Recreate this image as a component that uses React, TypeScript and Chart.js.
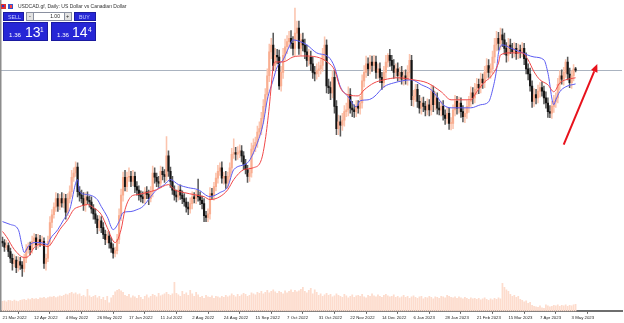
import React, { useEffect, useRef } from 'react';
import { Chart, registerables } from 'chart.js';

Chart.register(...registerables);

// ---------- data ----------
const TICK_LABELS = ['21 Mar 2022', '12 Apr 2022', '4 May 2022', '26 May 2022', '17 Jun 2022', '11 Jul 2022', '2 Aug 2022', '24 Aug 2022', '15 Sep 2022', '7 Oct 2022', '31 Oct 2022', '22 Nov 2022', '14 Dec 2022', '6 Jan 2023', '28 Jan 2023', '21 Feb 2023', '15 Mar 2023', '7 Apr 2023', '3 May 2023'];
const BARS_PER_LABEL = 16;

const FIRST_OPEN = 1.2610;
const CLOSE = [
  1.2600, 1.2575, 1.2585, 1.2550, 1.2510, 1.2480, 1.2500, 1.2455, 1.2490, 1.2470,
  1.2450, 1.2510, 1.2560, 1.2580, 1.2560, 1.2610, 1.2630, 1.2590, 1.2620, 1.2605,
  1.2610, 1.2480, 1.2510, 1.2610, 1.2720, 1.2765, 1.2810, 1.2860, 1.2815, 1.2860,
  1.2835, 1.2860, 1.2780, 1.2860, 1.2900, 1.2985, 1.3010, 1.3045, 1.2900, 1.2880,
  1.2860, 1.2820, 1.2870, 1.2850, 1.2840, 1.2800, 1.2770, 1.2740, 1.2690, 1.2730,
  1.2690, 1.2650, 1.2620, 1.2640, 1.2600, 1.2570, 1.2540, 1.2555, 1.2620, 1.2760,
  1.2880, 1.2985, 1.2930, 1.2985, 1.2990, 1.2960, 1.2990, 1.2930, 1.2910, 1.2880,
  1.2870, 1.2860, 1.2900, 1.2885, 1.2860, 1.2900, 1.3010, 1.2985, 1.2960, 1.2950,
  1.3020, 1.3000, 1.2990, 1.3110, 1.3020, 1.2960, 1.2910, 1.2880, 1.2870, 1.2910,
  1.2880, 1.2860, 1.2840, 1.2810, 1.2800, 1.2830, 1.2870, 1.2860, 1.2880, 1.2870,
  1.2850, 1.2830, 1.2760, 1.2750, 1.2770, 1.2890, 1.2880, 1.2930, 1.2980, 1.3020,
  1.3040, 1.2980, 1.2990, 1.2950, 1.2990, 1.3040, 1.3120, 1.3130, 1.3120, 1.3130,
  1.3140, 1.3110, 1.3060, 1.3030, 1.2990, 1.3010, 1.3150, 1.3170, 1.3190, 1.3250,
  1.3270, 1.3330, 1.3400, 1.3470, 1.3580, 1.3720, 1.3760, 1.3640, 1.3700, 1.3690,
  1.3520, 1.3600, 1.3700, 1.3750, 1.3780, 1.3800, 1.3770, 1.3740, 1.3830, 1.3860,
  1.3740, 1.3790, 1.3760, 1.3720, 1.3670, 1.3690, 1.3650, 1.3600, 1.3590, 1.3610,
  1.3620, 1.3640, 1.3700, 1.3760, 1.3520, 1.3510, 1.3480, 1.3570, 1.3400, 1.3270,
  1.3310, 1.3290, 1.3320, 1.3370, 1.3380, 1.3470, 1.3390, 1.3380, 1.3370, 1.3400,
  1.3390, 1.3420, 1.3550, 1.3600, 1.3650, 1.3620, 1.3660, 1.3640, 1.3660, 1.3600,
  1.3620, 1.3570, 1.3540, 1.3600, 1.3660, 1.3700, 1.3670, 1.3640, 1.3600, 1.3620,
  1.3580, 1.3600, 1.3560, 1.3580, 1.3560, 1.3600, 1.3670, 1.3440, 1.3460, 1.3500,
  1.3430, 1.3390, 1.3420, 1.3400, 1.3380, 1.3410, 1.3380, 1.3490, 1.3410, 1.3450,
  1.3390, 1.3380, 1.3400, 1.3350, 1.3330, 1.3360, 1.3300, 1.3300, 1.3380, 1.3430,
  1.3390, 1.3420, 1.3370, 1.3340, 1.3360, 1.3400, 1.3430, 1.3480, 1.3450, 1.3500,
  1.3530, 1.3510, 1.3560, 1.3540, 1.3600, 1.3640, 1.3600, 1.3620, 1.3690, 1.3760,
  1.3800, 1.3770, 1.3820, 1.3790, 1.3740, 1.3700, 1.3760, 1.3740, 1.3720, 1.3740,
  1.3710, 1.3730, 1.3720, 1.3740, 1.3680, 1.3620, 1.3590, 1.3520, 1.3430, 1.3470,
  1.3450, 1.3490, 1.3510, 1.3490, 1.3450, 1.3420, 1.3370, 1.3360, 1.3400, 1.3430,
  1.3450, 1.3530, 1.3580, 1.3560, 1.3600, 1.3660, 1.3590, 1.3540, 1.3580, 1.3620, 1.3613,
];
// wick lengths beyond the body, in pips
const WICK_UP_PIPS = [
  25, 20, 30, 15, 20, 25, 30, 20, 30, 25,
  20, 25, 30, 20, 25, 30, 25, 20, 30, 25,
  30, 20, 25, 30, 35, 30, 25, 35, 30, 25,
  35, 30, 25, 30, 35, 40, 30, 31, 25, 30,
  30, 35, 25, 30, 25, 30, 25, 30, 20, 30,
  25, 30, 25, 30, 25, 30, 25, 20, 30, 40,
  35, 30, 40, 30, 50, 30, 35, 25, 30, 25,
  25, 30, 25, 30, 25, 30, 40, 30, 25, 30,
  30, 25, 30, 114, 30, 25, 30, 25, 30, 25,
  30, 25, 30, 25, 30, 35, 30, 25, 30, 95,
  30, 25, 30, 25, 30, 35, 30, 25, 30, 35,
  30, 35, 25, 30, 25, 30, 35, 80, 30, 35,
  35, 30, 25, 30, 25, 30, 35, 40, 30, 35,
  40, 35, 40, 35, 40, 45, 40, 70, 40, 35,
  40, 35, 40, 45, 35, 40, 45, 40, 147, 40,
  40, 35, 40, 35, 40, 45, 35, 40, 35, 40,
  40, 35, 40, 48, 30, 40, 35, 40, 40, 35,
  40, 35, 40, 35, 40, 45, 35, 40, 30, 35,
  35, 40, 35, 40, 45, 35, 40, 35, 40, 35,
  30, 35, 30, 35, 40, 10, 35, 30, 35, 30,
  35, 30, 35, 30, 35, 40, 35, 30, 35, 30,
  30, 35, 30, 35, 30, 35, 30, 35, 30, 35,
  30, 35, 30, 35, 30, 35, 30, 35, 30, 35,
  30, 35, 30, 35, 30, 35, 30, 35, 30, 35,
  35, 30, 35, 30, 35, 40, 35, 30, 35, 40,
  40, 35, 40, 35, 40, 35, 40, 35, 30, 35,
  30, 35, 30, 35, 30, 35, 30, 35, 30, 35,
  30, 35, 30, 35, 30, 35, 30, 35, 30, 35,
  30, 35, 30, 35, 30, 15, 30, 35, 30, 25, 10,
];
const WICK_DOWN_PIPS = [
  20, 25, 15, 30, 25, 40, 20, 30, 20, 25,
  47, 20, 25, 20, 30, 20, 25, 30, 20, 25,
  20, 30, 40, 20, 25, 30, 20, 25, 30, 20,
  25, 30, 40, 20, 25, 30, 25, 20, 30, 35,
  25, 30, 35, 20, 30, 25, 30, 25, 35, 20,
  30, 25, 30, 20, 30, 25, 30, 22, 20, 25,
  30, 35, 25, 30, 25, 30, 25, 35, 30, 30,
  30, 25, 30, 25, 35, 20, 30, 35, 30, 25,
  25, 30, 35, 25, 30, 35, 25, 30, 30, 20,
  25, 30, 25, 30, 35, 25, 30, 25, 30, 25,
  25, 30, 35, 25, 25, 30, 25, 30, 25, 30,
  25, 30, 35, 30, 30, 25, 30, 25, 35, 30,
  30, 35, 30, 25, 35, 30, 25, 30, 35, 30,
  30, 35, 30, 35, 30, 35, 40, 30, 35, 40,
  20, 30, 35, 30, 40, 35, 30, 40, 45, 40,
  35, 40, 35, 40, 35, 30, 40, 35, 40, 30,
  35, 30, 35, 30, 40, 35, 40, 30, 40, 35,
  35, 64, 30, 35, 30, 35, 30, 40, 35, 30,
  30, 35, 30, 35, 30, 40, 30, 35, 30, 35,
  35, 30, 40, 30, 35, 30, 35, 30, 35, 30,
  30, 35, 30, 35, 30, 35, 30, 35, 40, 30,
  35, 30, 35, 30, 35, 30, 35, 30, 40, 30,
  35, 30, 35, 30, 35, 30, 35, 37, 30, 35,
  35, 30, 35, 30, 35, 30, 35, 30, 35, 30,
  30, 35, 30, 35, 30, 35, 30, 35, 30, 35,
  35, 40, 35, 40, 35, 40, 35, 30, 35, 30,
  35, 30, 35, 30, 35, 30, 35, 30, 35, 30,
  35, 30, 35, 30, 35, 30, 35, 26, 30, 35,
  35, 30, 35, 30, 35, 30, 35, 30, 35, 30, 10,
];
const VOLUME = [
  100, 105, 95, 110, 108, 100, 112, 104, 98, 110,
  115, 120, 110, 125, 118, 130, 122, 128, 120, 135,
  132, 140, 128, 138, 145, 142, 150, 138, 146, 155,
  150, 160, 172, 165, 180, 190, 175, 185, 168, 175,
  150, 160, 145, 220, 155, 140, 150, 160, 135, 150,
  120, 140, 110, 150, 85, 135, 160, 195, 210, 220,
  205, 190, 160, 150, 170, 135, 155, 145, 130, 160,
  140, 120, 150, 165, 135, 150, 170, 160, 145, 180,
  155, 165, 175, 190, 170, 160, 175, 290, 180, 165,
  150, 200, 170, 185, 160, 210, 175, 150, 190, 165,
  140, 150, 130, 160, 145, 140, 155, 130, 150, 145,
  135, 150, 140, 160, 145, 155, 175, 160, 145, 170,
  150, 165, 180, 170, 150, 160, 185, 175, 165, 190,
  180, 200, 175, 190, 210, 185, 200, 215, 195, 180,
  200, 190, 175, 205, 185, 200, 215, 190, 210, 195,
  205, 220, 240, 200, 185, 210, 230, 175, 215, 190,
  160, 175, 150, 165, 180, 160, 170, 145, 155, 175,
  160, 150, 140, 170, 155, 135, 150, 165, 140, 155,
  160, 150, 170, 145, 135, 160, 150, 175, 155, 145,
  165, 150, 140, 160, 170, 155, 145, 150, 165, 140,
  150, 135, 145, 160, 140, 150, 130, 145, 155, 140,
  130, 145, 150, 125, 140, 135, 150, 140, 125, 145,
  140, 130, 150, 145, 135, 160, 150, 140, 135, 145,
  130, 145, 135, 125, 140, 130, 120, 135, 125, 130,
  120, 130, 115, 125, 135, 120, 110, 125, 115, 130,
  120, 135, 125, 280, 240, 215, 200, 170, 150, 160,
  140, 150, 120, 110, 95, 105, 80, 90, 60, 50,
  45, 40, 55, 35, 30, 65, 55, 45, 50, 60,
  55, 65, 50, 60, 55, 65, 50, 60, 55, 65, 70,
];
// moving averages: [bar index, price]
const MA_BLUE = [[0,1.2725],[4,1.2708],[8,1.2678],[10,1.2579],[11,1.2544],[13,1.2579],[16,1.2602],[19,1.2602],[23,1.2591],[24,1.2620],[28,1.2678],[31,1.2737],[34,1.2795],[38,1.2971],[39,1.2901],[43,1.2883],[48,1.2854],[50,1.2813],[53,1.2754],[56,1.2678],[59,1.2725],[61,1.2778],[65,1.2784],[68,1.2795],[71,1.2813],[75,1.2871],[78,1.2912],[82,1.2942],[85,1.2971],[89,1.2942],[94,1.2924],[99,1.2912],[105,1.2871],[110,1.2895],[114,1.2930],[117,1.3029],[124,1.3070],[129,1.3187],[132,1.3304],[134,1.3439],[137,1.3556],[139,1.3632],[142,1.3673],[145,1.3749],[147,1.3790],[151,1.3778],[154,1.3761],[159,1.3714],[165,1.3690],[168,1.3632],[171,1.3515],[175,1.3456],[179,1.3398],[181,1.3433],[185,1.3439],[188,1.3456],[193,1.3515],[198,1.3538],[207,1.3556],[212,1.3527],[217,1.3497],[220,1.3456],[223,1.3410],[227,1.3392],[237,1.3392],[242,1.3410],[246,1.3427],[248,1.3497],[250,1.3614],[251,1.3714],[253,1.3761],[257,1.3743],[262,1.3720],[269,1.3690],[274,1.3673],[276,1.3597],[279,1.3410],[280,1.3439],[282,1.3486],[285,1.3515],[290,1.3532]];
const MA_RED = [[0,1.2667],[2,1.2637],[6,1.2561],[11,1.2515],[13,1.2520],[16,1.2573],[19,1.2591],[23,1.2579],[26,1.2620],[29,1.2678],[33,1.2737],[36,1.2795],[39,1.2813],[43,1.2825],[46,1.2807],[50,1.2766],[53,1.2690],[57,1.2602],[60,1.2678],[62,1.2795],[65,1.2871],[68,1.2883],[73,1.2895],[78,1.2912],[84,1.2942],[87,1.2912],[92,1.2895],[97,1.2883],[102,1.2871],[105,1.2854],[110,1.2871],[114,1.2912],[117,1.2971],[122,1.3029],[127,1.3041],[131,1.3088],[133,1.3205],[135,1.3398],[137,1.3632],[138,1.3661],[142,1.3661],[147,1.3690],[152,1.3696],[159,1.3690],[165,1.3655],[168,1.3614],[171,1.3509],[175,1.3468],[180,1.3462],[183,1.3497],[188,1.3538],[193,1.3556],[200,1.3568],[208,1.3556],[215,1.3538],[222,1.3486],[227,1.3439],[237,1.3439],[240,1.3486],[244,1.3544],[247,1.3573],[251,1.3655],[252,1.3702],[257,1.3714],[263,1.3714],[266,1.3673],[269,1.3603],[272,1.3556],[276,1.3527],[279,1.3486],[282,1.3538],[285,1.3556],[290,1.3568]];

const BID = 1.36131;
const ASK = 1.36144;
const ARROW_FROM = [284, 1.3176];
const ARROW_TO = [301, 1.3649];

const PRICE_MIN = 1.2199;
const PRICE_MAX = 1.4024;
const VOL_MAX = 3120;
const X_MIN = -0.76;
const X_MAX = 313.5;
const PIP = 0.0001;

// ---------- styles ----------
const BULL_BODY = '#f9ae91';
const BULL_WICK = '#fbc4ae';
const BEAR_BODY = '#141414';
const BEAR_WICK = '#5a5a5a';
const VOL_COLOR = '#fddccd';
const BLUE_LINE = '#5c5cf2';
const RED_LINE = '#f04848';

const overlayPlugin = {
  id: 'mtOverlay',
  beforeDatasetsDraw(chart: any) {
    const { ctx, chartArea: a, scales } = chart;
    const y = Math.round(scales.y.getPixelForValue(BID)) + 0.5;
    ctx.save();
    ctx.strokeStyle = '#aab3c0';
    ctx.lineWidth = 1;
    ctx.beginPath();
    ctx.moveTo(a.left, y);
    ctx.lineTo(a.right, y);
    ctx.stroke();
    ctx.restore();
  },
  afterDatasetsDraw(chart: any) {
    const { ctx, chartArea: a, scales } = chart;
    const x0 = scales.x.getPixelForValue(ARROW_FROM[0]);
    const y0 = scales.y.getPixelForValue(ARROW_FROM[1]);
    const x1 = scales.x.getPixelForValue(ARROW_TO[0]);
    const y1 = scales.y.getPixelForValue(ARROW_TO[1]);
    const ang = Math.atan2(y1 - y0, x1 - x0);
    const head = 8;
    const half = 3.5;
    const bx = x1 - head * Math.cos(ang);
    const by = y1 - head * Math.sin(ang);
    ctx.save();
    ctx.strokeStyle = '#e8121c';
    ctx.fillStyle = '#e8121c';
    ctx.lineWidth = 2;
    ctx.beginPath();
    ctx.moveTo(x0, y0);
    ctx.lineTo(bx, by);
    ctx.stroke();
    ctx.beginPath();
    ctx.moveTo(x1, y1);
    ctx.lineTo(bx + half * Math.sin(ang), by - half * Math.cos(ang));
    ctx.lineTo(bx - half * Math.sin(ang), by + half * Math.cos(ang));
    ctx.closePath();
    ctx.fill();
    // left frame
    ctx.fillStyle = '#8c8c8c';
    ctx.fillRect(0, 0, 1.5, a.bottom);
    ctx.restore();
  },
};

function T(props: { x: number; y: number; size: number; color: string; text: string; weight?: number; anchor?: 'left' | 'right' }) {
  const k = props.size / 20;
  const style: React.CSSProperties = {
    position: 'absolute',
    top: props.y,
    fontFamily: '"Liberation Sans", Arial, sans-serif',
    fontSize: 20,
    lineHeight: 1,
    whiteSpace: 'nowrap',
    color: props.color,
    fontWeight: props.weight || 400,
    transform: `scale(${k})`,
  };
  if (props.anchor === 'right') {
    style.right = 624 - props.x;
    style.transformOrigin = 'right top';
  } else {
    style.left = props.x;
    style.transformOrigin = 'left top';
  }
  return <span style={style}>{props.text}</span>;
}

function box(x: number, y: number, w: number, h: number, bg: string, border?: string): React.CSSProperties {
  return { position: 'absolute', left: x, top: y, width: w, height: h, background: bg, boxSizing: 'border-box', border: border ? `1px solid ${border}` : undefined };
}

function splitPrice(p: number) {
  const s = p.toFixed(5);
  return { head: s.slice(0, 4), big: s.slice(4, 6), sup: s.slice(6) };
}

function TradePanel() {
  const sell = splitPrice(BID);
  const buy = splitPrice(ASK);
  const blue = '#2626d6';
  return (
    <>
      <div style={box(1, 4, 5, 5, '#d33')} />
      <div style={box(2, 5, 2, 2, '#33c')} />
      <div style={box(8, 4, 5, 5, '#3355cc')} />
      <div style={box(10, 5, 2, 3, '#f44')} />
      <T x={18} y={4.2} size={5} color="#333" text="USDCAD.gf, Daily:  US Dollar vs Canadian Dollar" />
      <div style={box(3, 12, 21, 9, blue, '#1a1aa0')} />
      <div style={box(74, 12, 22, 9, blue, '#1a1aa0')} />
      <div style={box(26, 12, 46, 9, '#ffffff', '#8a90a0')} />
      <div style={box(26, 12, 8, 9, '#e2e2e2', '#8a90a0')} />
      <div style={box(64, 12, 8, 9, '#e2e2e2', '#8a90a0')} />
      <T x={28.6} y={13.2} size={5.5} color="#222" text="-" />
      <T x={66.4} y={13.2} size={5.5} color="#222" text="+" />
      <T x={59.5} y={14} size={5} color="#222" text="1.00" anchor="right" />
      <T x={7.5} y={14.3} size={5.3} color="#c9d0ff" text="SELL" />
      <T x={78.5} y={14.3} size={5.3} color="#c9d0ff" text="BUY" />
      <div style={box(3, 22, 45, 19, blue, '#1a1aa0')} />
      <div style={box(51, 22, 45, 19, blue, '#1a1aa0')} />
      <T x={9} y={32.4} size={6.2} color="#ffffff" text={sell.head} />
      <T x={24.5} y={25.2} size={14} color="#ffffff" text={sell.big} />
      <T x={40} y={26.2} size={6.5} color="#ffffff" text={sell.sup} />
      <T x={56.5} y={32.4} size={6.2} color="#ffffff" text={buy.head} />
      <T x={71.5} y={25.2} size={14} color="#ffffff" text={buy.big} />
      <T x={87.5} y={26.2} size={6.5} color="#ffffff" text={buy.sup} />
    </>
  );
}

export default function App() {
  const canvasRef = useRef<HTMLCanvasElement | null>(null);

  useEffect(() => {
    const canvas = canvasRef.current;
    if (!canvas) return;
    const opens = CLOSE.map((c, i) => (i === 0 ? FIRST_OPEN : CLOSE[i - 1]));
    const highs = CLOSE.map((c, i) => Math.max(opens[i], c) + WICK_UP_PIPS[i] * PIP);
    const lows = CLOSE.map((c, i) => Math.min(opens[i], c) - WICK_DOWN_PIPS[i] * PIP);
    const up = CLOSE.map((c, i) => c >= opens[i]);

    const chart = new Chart(canvas, {
      type: 'bar',
      data: {
        datasets: [
          {
            type: 'bar',
            label: 'Volume',
            data: VOLUME.map((v, i) => ({ x: i, y: v })),
            yAxisID: 'yv',
            backgroundColor: VOL_COLOR,
            barThickness: 1.1,
            grouped: false,
            order: 4,
          },
          {
            type: 'bar',
            label: 'Wicks',
            data: CLOSE.map((c, i) => ({ x: i, y: [lows[i], highs[i]] })),
            yAxisID: 'y',
            backgroundColor: up.map((u) => (u ? BULL_WICK : BEAR_WICK)),
            barThickness: 0.9,
            grouped: false,
            order: 3,
          },
          {
            type: 'bar',
            label: 'Bodies',
            data: CLOSE.map((c, i) => ({ x: i, y: [opens[i], c] })),
            yAxisID: 'y',
            backgroundColor: up.map((u) => (u ? BULL_BODY : BEAR_BODY)),
            barThickness: 1.5,
            minBarLength: 1,
            grouped: false,
            order: 2,
          },
          {
            type: 'line',
            label: 'MA blue',
            data: MA_BLUE.map(([x, y]) => ({ x, y })),
            yAxisID: 'y',
            borderColor: BLUE_LINE,
            borderWidth: 1,
            pointRadius: 0,
            cubicInterpolationMode: 'monotone',
            order: 1,
          },
          {
            type: 'line',
            label: 'MA red',
            data: MA_RED.map(([x, y]) => ({ x, y })),
            yAxisID: 'y',
            borderColor: RED_LINE,
            borderWidth: 1,
            pointRadius: 0,
            cubicInterpolationMode: 'monotone',
            order: 0,
          },
        ] as any,
      },
      options: {
        animation: false,
        responsive: false,
        maintainAspectRatio: false,
        layout: { padding: { left: 1, right: 2, top: 0, bottom: 2 } },
        plugins: { legend: { display: false }, tooltip: { enabled: false } },
        scales: {
          x: {
            type: 'linear',
            min: X_MIN,
            max: X_MAX,
            offset: false,
            afterBuildTicks: (scale: any) => {
              scale.ticks = TICK_LABELS.map((_, k) => ({ value: k * BARS_PER_LABEL }));
            },
            ticks: {
              autoSkip: false,
              maxRotation: 0,
              align: 'start',
              padding: 1,
              color: '#222',
              font: { family: '"Liberation Sans", Arial, sans-serif', size: 4.3 },
              callback: (v: any) => TICK_LABELS[Math.round(Number(v) / BARS_PER_LABEL)] ?? '',
            },
            grid: { display: true, drawOnChartArea: false, drawTicks: true, tickLength: 2.5, color: '#666', lineWidth: 1 },
            border: { display: true, color: '#6e6e6e', width: 2 },
          },
          y: { type: 'linear', display: false, min: PRICE_MIN, max: PRICE_MAX },
          yv: { type: 'linear', display: false, min: 0, max: VOL_MAX },
        },
      } as any,
      plugins: [overlayPlugin],
    });
    return () => chart.destroy();
  }, []);

  return (
    <div style={{ position: 'absolute', left: 0, top: 0, width: 624, height: 323, background: '#fff', overflow: 'hidden' }}>
      <canvas ref={canvasRef} width={624} height={323} style={{ position: 'absolute', left: 0, top: 0, width: 624, height: 323 }} />
      <TradePanel />
    </div>
  );
}
